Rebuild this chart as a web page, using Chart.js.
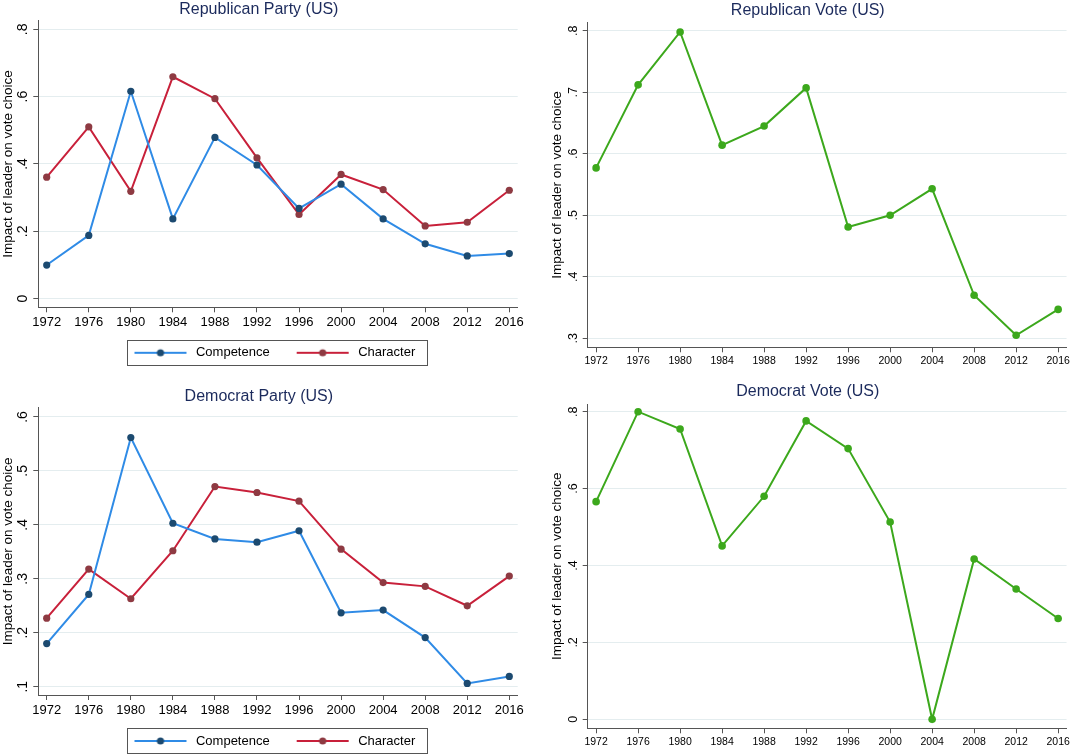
<!DOCTYPE html>
<html>
<head>
<meta charset="utf-8">
<script src="https://cdn.jsdelivr.net/npm/chart.js@4.4.1/dist/chart.umd.min.js"></script>
<style>
  html, body { margin: 0; padding: 0; background: #fff; overflow: hidden; }
  #wrap { position: relative; width: 1072px; height: 755px; overflow: hidden; }
  canvas { position: absolute; }
</style>
</head>
<body>
<div id="wrap">
  <canvas id="repParty" width="536" height="375" style="left:0;top:0"></canvas>
  <canvas id="repVote" width="536" height="375" style="left:536px;top:0"></canvas>
  <canvas id="demParty" width="536" height="390" style="left:0;top:375px"></canvas>
  <canvas id="demVote" width="536" height="380" style="left:536px;top:375px"></canvas>
</div>
<script>
// values
const years = [1972, 1976, 1980, 1984, 1988, 1992, 1996, 2000, 2004, 2008, 2012, 2016];

const repCompetence = [0.100, 0.188, 0.616, 0.237, 0.479, 0.397, 0.268, 0.340, 0.237, 0.163, 0.127, 0.134];
const repCharacter  = [0.361, 0.510, 0.319, 0.659, 0.594, 0.418, 0.250, 0.369, 0.324, 0.216, 0.227, 0.322];
const repVote       = [0.577, 0.712, 0.798, 0.614, 0.645, 0.707, 0.481, 0.500, 0.543, 0.370, 0.305, 0.347];

const demCompetence = [0.180, 0.271, 0.562, 0.403, 0.374, 0.368, 0.389, 0.237, 0.242, 0.191, 0.106, 0.119];
const demCharacter  = [0.227, 0.318, 0.263, 0.352, 0.471, 0.460, 0.444, 0.355, 0.293, 0.286, 0.250, 0.305];
const demVote       = [0.566, 0.800, 0.755, 0.451, 0.580, 0.776, 0.704, 0.513, 0.000, 0.417, 0.339, 0.262];

const repPartyTicks = [0, 0.2, 0.4, 0.6, 0.8];
const repVoteTicks  = [0.3, 0.4, 0.5, 0.6, 0.7, 0.8];
const demPartyTicks = [0.1, 0.2, 0.3, 0.4, 0.5, 0.6];
const demVoteTicks  = [0, 0.2, 0.4, 0.6, 0.8];

const yTitle = 'Impact of leader on vote choice';

Chart.defaults.font.family = '"Liberation Sans", Arial, sans-serif';
Chart.defaults.color = '#000';

const axisColor = '#555';
const gridColor = '#e4edef';
const blue = '#2f8be6', navy = '#1c4a70';
const red = '#c8203a', maroon = '#8e3a42';
const green = '#3ca81c';

// blank lead in front of each legend sample, gives the gap between entries
const lead = 11;

function tickText(v) {
    if (Math.abs(v) < 1e-9) return '0';
    return String(+v.toFixed(2)).replace(/^0\./, '.');
}

// line + marker sample for the legend
function swatch(line, dot) {
    const c = document.createElement('canvas');
    c.width = lead + 55;
    c.height = 10;
    const g = c.getContext('2d');
    g.strokeStyle = line;
    g.lineWidth = 2;
    g.beginPath();
    g.moveTo(lead, 5);
    g.lineTo(lead + 52, 5);
    g.stroke();
    g.fillStyle = dot;
    g.beginPath();
    g.arc(lead + 26, 5, 3.6, 0, Math.PI * 2);
    g.fill();
    return c;
}

// shifts the legend sideways and draws the box round it
const legendFrame = {
    id: 'legendFrame',
    afterLayout(chart, args, opts) {
        const lg = chart.legend;
        if (!lg || !opts.shift) return;
        lg.left += opts.shift;
        lg.right += opts.shift;
    },
    afterDraw(chart) {
        const lg = chart.legend;
        if (!lg || !lg.options.display || !lg.legendHitBoxes.length) return;
        const hb = lg.legendHitBoxes;
        const first = hb[0], last = hb[hb.length - 1];
        const x0 = first.left + lead - 7;
        const x1 = last.left + last.width + 12;
        const yc = first.top + first.height / 2;
        const ctx = chart.ctx;
        ctx.save();
        ctx.strokeStyle = '#555';
        ctx.lineWidth = 1;
        ctx.strokeRect(Math.round(x0) + 0.5, Math.round(yc - 13) + 0.5, Math.round(x1 - x0), 25);
        ctx.restore();
    }
};

function panel(id, o) {
    const datasets = o.series.map(s => ({
        label: s.label,
        data: years.map((yr, i) => ({ x: yr, y: s.values[i] })),
        borderColor: s.line,
        backgroundColor: s.dot,
        pointBackgroundColor: s.dot,
        pointBorderColor: s.dot,
        pointBorderWidth: 0,
        pointRadius: o.radius,
        borderWidth: 2,
        tension: 0,
        clip: false,
        swatch: swatch(s.line, s.dot)
    }));

    return new Chart(document.getElementById(id), {
        type: 'line',
        data: { datasets: datasets },
        plugins: [legendFrame],
        options: {
            responsive: false,
            animation: false,
            layout: { padding: o.pad },
            plugins: {
                title: {
                    display: true,
                    text: o.title,
                    color: '#1b2a5c',
                    font: { size: 16, weight: 'normal' },
                    padding: o.titlePad
                },
                legend: {
                    display: o.legend,
                    position: 'bottom',
                    labels: {
                        color: '#000',
                        font: { size: 13 },
                        usePointStyle: true,
                        pointStyleWidth: lead + 55,
                        padding: 16,
                        generateLabels: chart =>
                            Chart.defaults.plugins.legend.labels.generateLabels(chart).map(item =>
                                Object.assign(item, { pointStyle: chart.data.datasets[item.datasetIndex].swatch }))
                    }
                },
                tooltip: { enabled: false },
                legendFrame: { shift: o.legendShift || 0 }
            },
            scales: {
                x: {
                    type: 'linear',
                    min: 1971.2,
                    max: 2016.8,
                    afterBuildTicks: s => { s.ticks = years.map(v => ({ value: v })); },
                    afterFit: s => { s.height = o.xHeight; },
                    grid: { drawOnChartArea: false, tickLength: 5, tickColor: axisColor },
                    border: { color: axisColor },
                    ticks: {
                        font: { size: o.xFont },
                        padding: o.xPad,
                        maxRotation: 0,
                        autoSkip: false,
                        callback: v => String(v)
                    }
                },
                y: {
                    min: o.yMin,
                    max: o.yMax,
                    afterBuildTicks: s => { s.ticks = o.yTicks.map(v => ({ value: v })); },
                    afterFit: s => { s.width = o.yWidth; },
                    grid: { color: gridColor, tickColor: axisColor, tickLength: 5 },
                    border: { color: axisColor },
                    ticks: {
                        font: { size: o.yFont },
                        padding: o.yPad,
                        minRotation: 90,
                        maxRotation: 90,
                        crossAlign: 'center',
                        callback: v => tickText(v)
                    },
                    title: {
                        display: true,
                        text: yTitle,
                        font: { size: 13.5 },
                        padding: { top: o.yTitlePad, bottom: 0 }
                    }
                }
            }
        }
    });
}

const partySeries = (comp, chr) => [
    { label: 'Competence', values: comp, line: blue, dot: navy },
    { label: 'Character', values: chr, line: red, dot: maroon }
];

panel('repParty', {
    title: 'Republican Party (US)',
    series: partySeries(repCompetence, repCharacter),
    yTicks: repPartyTicks, yMin: -0.0255, yMax: 0.8255,
    pad: { left: 0, right: 18.3, top: 0, bottom: 5.7 },
    titlePad: { top: 0, bottom: 1.5 },
    yWidth: 38.3, yFont: 14, yPad: 4.6, yTitlePad: 0,
    xHeight: 23, xFont: 13, xPad: 2.2,
    radius: 3.6, legend: true, legendShift: 10.5
});

panel('demParty', {
    title: 'Democrat Party (US)',
    series: partySeries(demCompetence, demCharacter),
    yTicks: demPartyTicks, yMin: 0.0846, yMax: 0.6172,
    pad: { left: 0, right: 18.3, top: 0, bottom: 7.5 },
    titlePad: { top: 12.4, bottom: 1.1 },
    yWidth: 38.3, yFont: 14, yPad: 4.6, yTitlePad: 0,
    xHeight: 23.5, xFont: 13, xPad: 2.9,
    radius: 3.6, legend: true, legendShift: 10.5
});

panel('repVote', {
    title: 'Republican Vote (US)',
    series: [{ label: 'Vote', values: repVote, line: green, dot: green }],
    yTicks: repVoteTicks, yMin: 0.2854, yMax: 0.813,
    pad: { left: 12, right: 4.5, top: 0, bottom: 7.7 },
    titlePad: { top: 1.1, bottom: 2.4 },
    yWidth: 39.7, yFont: 12.5, yPad: 4.2, yTitlePad: 0.9,
    xHeight: 20, xFont: 10.5, xPad: 2.1,
    radius: 3.8, legend: false
});

panel('demVote', {
    title: 'Democrat Vote (US)',
    series: [{ label: 'Vote', values: demVote, line: green, dot: green }],
    yTicks: demVoteTicks, yMin: -0.0234, yMax: 0.8192,
    pad: { left: 12, right: 4.5, top: 0, bottom: 6.7 },
    titlePad: { top: 7.1, bottom: 3.0 },
    yWidth: 39.7, yFont: 12.5, yPad: 4.2, yTitlePad: 0.9,
    xHeight: 20, xFont: 10.5, xPad: 2.1,
    radius: 3.8, legend: false
});
</script>
</body>
</html>
